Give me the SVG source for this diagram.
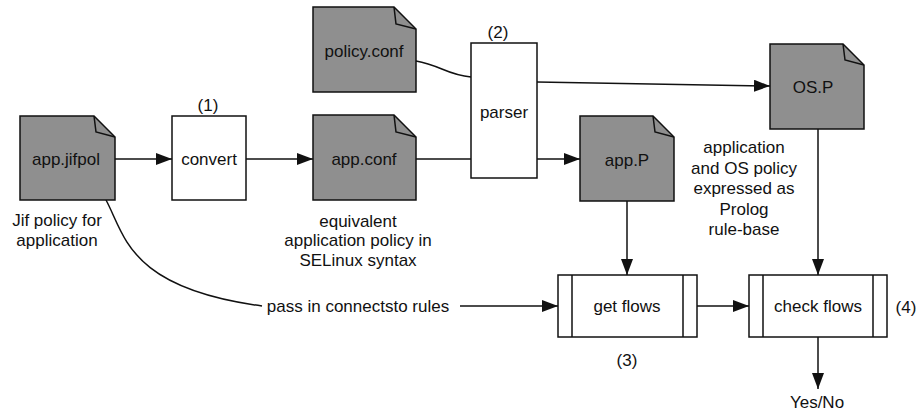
<svg xmlns="http://www.w3.org/2000/svg" width="916" height="414" viewBox="0 0 916 414">
<defs>
<style>
text { font-family: "Liberation Sans", Arial, sans-serif; font-size: 17px; fill: #111; text-anchor: middle; }
.doc { fill: #8f8f8f; stroke: #111; stroke-width: 1.5; stroke-linejoin: miter; }
.fold { fill: none; stroke: #111; stroke-width: 1.5; }
.box { fill: #fff; stroke: #111; stroke-width: 1.5; }
.bar { fill: none; stroke: #111; stroke-width: 1.5; }
.conn { fill: none; stroke: #111; stroke-width: 1.5; }
</style>
<marker id="arr" markerUnits="userSpaceOnUse" markerWidth="16" markerHeight="12" refX="16" refY="6" orient="auto">
<path d="M0,0 L16,6 L0,12 Z" fill="#111"/>
</marker>
</defs>
<rect width="916" height="414" fill="#fff"/>

<g id="connectors">
<path class="conn" d="M115,159 H172" marker-end="url(#arr)"/>
<path class="conn" d="M246,159 H313" marker-end="url(#arr)"/>
<path class="conn" d="M416,159 H471"/>
<path class="conn" d="M416,61 C440,65 447,75 471,77"/>
<path class="conn" d="M537,82 L770,86" marker-end="url(#arr)"/>
<path class="conn" d="M537,159 H580" marker-end="url(#arr)"/>
<path class="conn" d="M627,201 V275" marker-end="url(#arr)"/>
<path class="conn" d="M818,129 V275" marker-end="url(#arr)"/>
<path class="conn" d="M697,306 H749" marker-end="url(#arr)"/>
<path class="conn" d="M818,337 V389" marker-end="url(#arr)"/>
<path class="conn" d="M106,200 C125,235 128,288 262,306"/>
<path class="conn" d="M460,306 H558" marker-end="url(#arr)"/>
<text x="358" y="312">pass in connectsto rules</text>
</g>

<g id="app-jifpol">
<path class="doc" d="M20,116 H94 L115,137 V200 H20 Z"/>
<path class="fold" d="M94,116 L96,132 L115,137"/>
<text x="66" y="165">app.jifpol</text>
<text x="57" y="226">Jif policy for</text>
<text x="57" y="246">application</text>
</g>

<g id="convert">
<rect class="box" x="172" y="116" width="74" height="84"/>
<text x="209" y="165">convert</text>
<text x="208" y="111">(1)</text>
</g>

<g id="policy-conf">
<path class="doc" d="M313,7 H394 L416,29 V92 H313 Z"/>
<path class="fold" d="M394,7 L396,24 L416,29"/>
<text x="364" y="57">policy.conf</text>
</g>

<g id="app-conf">
<path class="doc" d="M313,115 H394 L416,137 V200 H313 Z"/>
<path class="fold" d="M394,115 L396,132 L416,137"/>
<text x="364" y="165">app.conf</text>
<text x="358" y="227">equivalent</text>
<text x="358" y="246">application policy in</text>
<text x="358" y="266">SELinux syntax</text>
</g>

<g id="parser">
<rect class="box" x="471" y="43" width="66" height="135"/>
<text x="504" y="118">parser</text>
<text x="498" y="38">(2)</text>
</g>

<g id="app-P">
<path class="doc" d="M580,116 H653 L674,137 V201 H580 Z"/>
<path class="fold" d="M653,116 L655,132 L674,137"/>
<text x="627" y="166">app.P</text>
</g>

<g id="OS-P">
<path class="doc" d="M770,44 H843 L864,65 V129 H770 Z"/>
<path class="fold" d="M843,44 L845,60 L864,65"/>
<text x="813" y="93">OS.P</text>
<text x="744" y="153">application</text>
<text x="744" y="174">and OS policy</text>
<text x="744" y="194">expressed as</text>
<text x="744" y="215">Prolog</text>
<text x="744" y="235">rule-base</text>
</g>

<g id="get-flows">
<rect class="box" x="558" y="275" width="139" height="62"/>
<path class="bar" d="M572,275 V337 M683,275 V337"/>
<text x="627" y="312">get flows</text>
<text x="627" y="366">(3)</text>
</g>

<g id="check-flows">
<rect class="box" x="749" y="275" width="138" height="62"/>
<path class="bar" d="M763,275 V337 M873,275 V337"/>
<text x="818" y="312">check flows</text>
<text x="906" y="313">(4)</text>
</g>

<g id="yes-no">
<text x="817" y="408">Yes/No</text>
</g>
</svg>
